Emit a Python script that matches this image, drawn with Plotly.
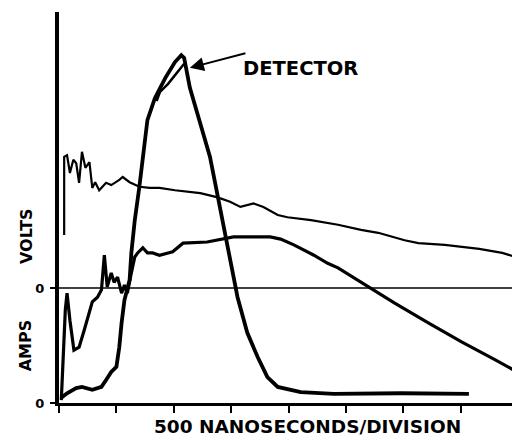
import plotly.graph_objects as go

# time in divisions (500 ns / division); signal in vertical divisions
upper_t = [0.09, 0.09, 0.14, 0.19, 0.25, 0.30, 0.35, 0.40, 0.46, 0.53, 0.58, 0.63, 0.70, 0.75,
           0.82, 0.91, 1.00, 1.05, 1.11, 1.23, 1.40, 1.58, 1.75, 2.02, 2.46, 2.75, 2.98, 3.16,
           3.39, 3.56, 3.81, 3.98, 4.39, 4.86, 5.26, 5.56, 6.02, 6.26, 6.72, 7.32, 7.72, 8.02]
upper_v = [2.92, 4.28, 4.31, 4.00, 4.23, 4.17, 3.83, 4.37, 4.09, 4.19, 3.74, 3.84, 3.70, 3.76,
           3.83, 3.79, 3.84, 3.88, 3.93, 3.84, 3.76, 3.74, 3.74, 3.70, 3.65, 3.58, 3.50, 3.41,
           3.47, 3.41, 3.27, 3.23, 3.18, 3.10, 3.01, 2.96, 2.83, 2.78, 2.75, 2.68, 2.61, 2.52]

middle_t = [0.04, 0.07, 0.11, 0.14, 0.19, 0.26, 0.35, 0.44, 0.53, 0.58, 0.67, 0.74, 0.79, 0.84,
            0.91, 0.96, 1.02, 1.09, 1.14, 1.19, 1.26, 1.32, 1.37, 1.46, 1.54, 1.63, 1.75, 1.98,
            2.16, 2.58, 3.04, 3.51, 3.68, 3.86, 4.09, 4.44, 4.68, 4.86, 5.26, 5.44, 5.84, 6.44,
            7.02, 7.60, 8.07]
middle_v = [0.05, 0.75, 1.62, 1.91, 1.44, 0.92, 0.97, 1.27, 1.57, 1.76, 1.84, 1.97, 2.57, 2.02,
            2.26, 2.10, 2.19, 1.91, 2.05, 1.91, 2.26, 2.54, 2.61, 2.70, 2.61, 2.61, 2.57, 2.63,
            2.78, 2.80, 2.89, 2.89, 2.89, 2.85, 2.75, 2.57, 2.43, 2.35, 2.10, 2.00, 1.74, 1.39,
            1.06, 0.75, 0.49]

detector_t = [0.04, 0.14, 0.30, 0.40, 0.58, 0.74, 0.82, 0.91, 1.00, 1.05, 1.09, 1.14, 1.23, 1.26,
              1.32, 1.40, 1.54, 1.67, 1.85, 2.02, 2.13, 2.18, 2.28, 2.46, 2.63, 2.77, 2.89, 3.02,
              3.11, 3.28, 3.46, 3.63, 3.81, 4.21, 4.79, 5.96, 7.14]
detector_v = [0.09, 0.17, 0.26, 0.28, 0.23, 0.28, 0.40, 0.54, 0.63, 0.97, 1.39, 1.79, 2.14, 2.61,
              3.18, 3.76, 4.92, 5.30, 5.65, 5.93, 6.05, 6.00, 5.48, 4.89, 4.28, 3.57, 2.96, 2.31,
              1.84, 1.22, 0.80, 0.45, 0.28, 0.19, 0.16, 0.17, 0.16]

# second sweep of the detector trace near its peak
detector2_t = [1.70, 1.76, 1.90, 2.04, 2.18]
detector2_v = [5.25, 5.41, 5.55, 5.72, 5.90]

volts_zero = 2.0
amps_zero = 0.0
x_ticks = [0, 1, 2, 3, 4, 5, 6, 7, 8]

FONT = "DejaVu Sans"

fig = go.Figure()
fig.add_trace(go.Scatter(x=upper_t, y=upper_v, mode="lines",
                         line=dict(color="black", width=2.2), hoverinfo="skip"))
fig.add_trace(go.Scatter(x=middle_t, y=middle_v, mode="lines",
                         line=dict(color="black", width=3.2), hoverinfo="skip"))
fig.add_trace(go.Scatter(x=detector_t, y=detector_v, mode="lines",
                         line=dict(color="black", width=3.8), hoverinfo="skip"))
fig.add_trace(go.Scatter(x=detector2_t, y=detector2_v, mode="lines",
                         line=dict(color="black", width=2.5), hoverinfo="skip"))

fig.add_shape(type="line", xref="paper", x0=0, x1=1, yref="y", y0=volts_zero, y1=volts_zero,
              line=dict(color="black", width=1.5))

fig.add_annotation(x=4.2, y=5.82, xref="x", yref="y", text="DETECTOR", showarrow=False,
                   xanchor="center", yanchor="middle",
                   font=dict(family=FONT, size=19.5, color="black", weight="bold"))
fig.add_annotation(x=2.28, y=5.83, xref="x", yref="y", text="", showarrow=True,
                   ax=57, ay=-15, arrowhead=2, arrowsize=1.4, arrowwidth=2, arrowcolor="black")

fig.add_annotation(xref="paper", yref="paper", x=0.538, y=-0.061,
                   xanchor="center", yanchor="middle",
                   text="500 NANOSECONDS/DIVISION", showarrow=False,
                   font=dict(family=FONT, size=18.5, color="black", weight="bold"))
fig.add_annotation(xref="paper", yref="y", x=-0.072, y=2.9, text="VOLTS", textangle=-90,
                   xanchor="center", yanchor="middle",
                   showarrow=False, font=dict(family=FONT, size=16, color="black", weight="bold"))
fig.add_annotation(xref="paper", yref="y", x=-0.072, y=1.0, text="AMPS", textangle=-90,
                   xanchor="center", yanchor="middle",
                   showarrow=False, font=dict(family=FONT, size=16, color="black", weight="bold"))

fig.update_layout(
    width=520, height=440,
    margin=dict(l=51, r=8, t=4, b=45),
    paper_bgcolor="white", plot_bgcolor="white",
    showlegend=False,
    xaxis=dict(range=[0, 8.03], tickvals=x_ticks, showticklabels=False, ticks="outside",
               ticklen=7, tickwidth=2, tickcolor="black", showline=True, linewidth=2.5,
               linecolor="black", showgrid=False, zeroline=False, fixedrange=True),
    yaxis=dict(range=[0, 6.8], tickvals=[amps_zero, volts_zero], ticktext=["0", "0"],
               ticks="outside", ticklen=5, tickwidth=1.5, tickcolor="black",
               tickfont=dict(family=FONT, size=13, color="black", weight="bold"),
               showline=True, linewidth=4, linecolor="black", showgrid=False,
               zeroline=False, fixedrange=True, ticklabelstandoff=3),
)

fig.write_html("out.html")
